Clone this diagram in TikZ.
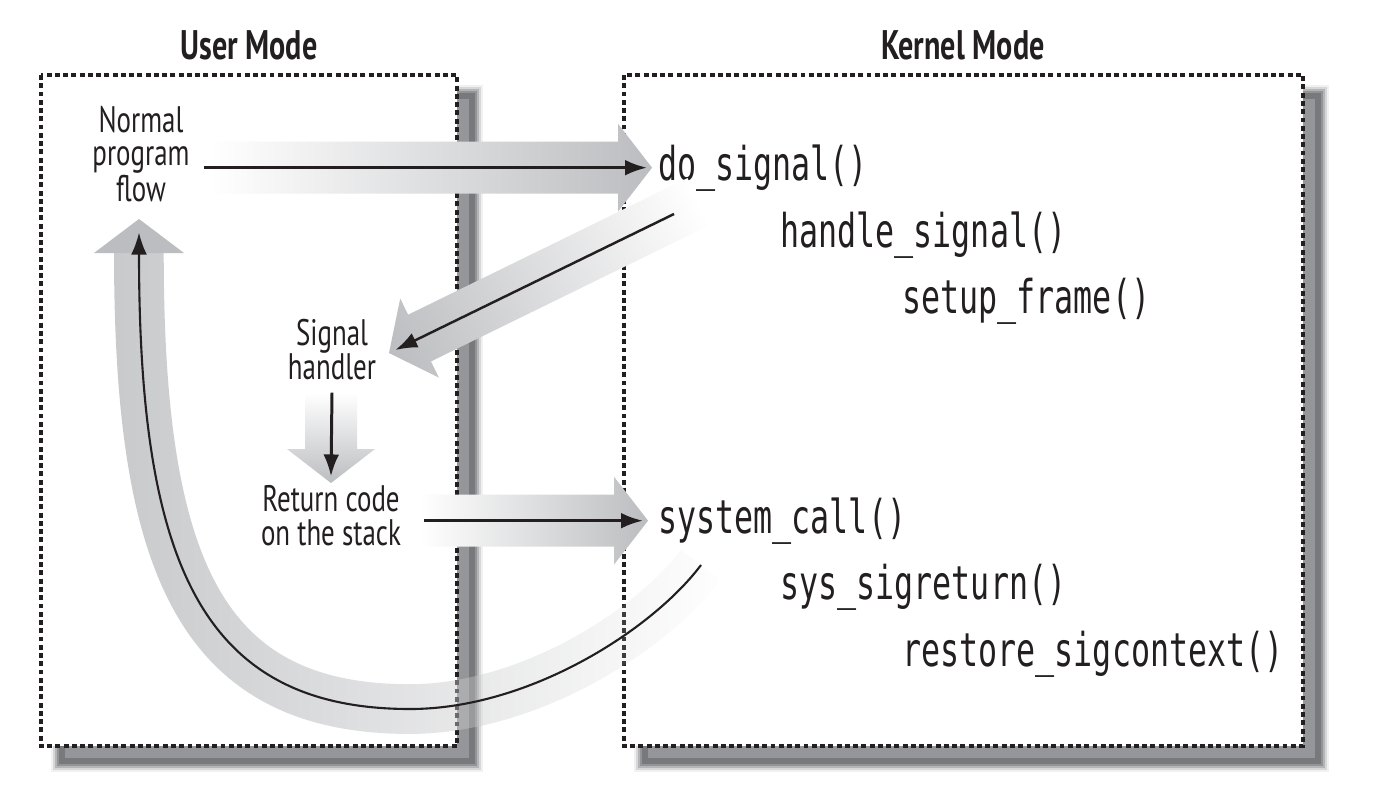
\documentclass[tikz,border=0pt]{standalone}
\usepackage{fontspec}
\setmainfont{PT Sans}[FakeStretch=0.73]
\setmonofont{DejaVu Sans Mono}[FakeStretch=0.68]
\usetikzlibrary{arrows.meta,calc,fadings}

\definecolor{shadowcore}{RGB}{148,150,153}
\definecolor{shadowdark}{RGB}{120,121,124}
\definecolor{arrowgray}{RGB}{188,189,192}
\definecolor{bandgray}{RGB}{201,202,204}
\definecolor{inkblack}{RGB}{35,31,32}

\tikzfading[name=bandfade, left color=transparent!0, middle color=transparent!0, right color=transparent!100]

% wide grey arrow, tip at the origin, pointing along +x
\newcommand{\fatarrow}[1]{%
  \shade[left color=white, right color=arrowgray]
    (-#1,-26) -- (-34,-26) -- (-34,-44) -- (0,0) -- (-34,44) -- (-34,26) -- (-#1,26) -- cycle;}

\tikzset{
  modebox/.style={draw=inkblack, fill=white, line width=1.8pt, dash pattern=on 2.8pt off 1.9pt},
  modetitle/.style={text=inkblack, font=\fontsize{23.5}{25}\selectfont\bfseries},
  flowtext/.style={text=inkblack, align=center, inner sep=0pt, font=\fontsize{21}{19.3}\selectfont},
  kfunc/.style={text=inkblack, anchor=base west, inner sep=0pt, font=\fontsize{26.5}{28}\selectfont\ttfamily},
  thinarrow/.style={draw=inkblack, line width=1.7pt, -{Latex[length=12.5pt, width=9pt]}},
}

\begin{document}
\begin{tikzpicture}[x=0.02cm, y=-0.02cm]
  \useasboundingbox (0,0) rectangle (1388,795);

  % the two modes, each with its soft shadow
  \foreach \xa/\xb in {41/457, 624/1303} {
    \foreach \k/\c in {0/shadowdark!10, 2/shadowdark!30, 4/shadowdark!55, 6/shadowdark!80,
                       8/shadowdark, 10/shadowdark, 12/shadowdark, 14/shadowcore, 16/shadowcore}
      \fill[\c] ({\xa+10+\k},{85+\k}) rectangle ({\xb+26-\k},{772-\k});
    \draw[modebox] (\xa,75) rectangle (\xb,746);
  }
  \node[modetitle] (usertitle) at (249,45) {User Mode};
  \node[modetitle] (kerneltitle) at (963,45) {Kernel Mode};

  \node[flowtext] (flow) at (141,154) {Normal\\program\\flow};
  \node[flowtext] (handler) at (332,350) {Signal\\handler};
  \node[flowtext] (retcode) at (331,516) {Return code\\on the stack};

  \node[kfunc] (dosig) at (658,180) {do\_signal()};
  \node[kfunc] (handsig) at (780,247) {handle\_signal()};
  \node[kfunc] (setup) at (902,313) {setup\_frame()};
  \node[kfunc] (syscall) at (658,533) {system\_call()};
  \node[kfunc] (sigret) at (780,599) {sys\_sigreturn()};
  \node[kfunc] (restore) at (902,666) {restore\_sigcontext()};

  \coordinate (sigstart) at (674,214);
  \coordinate (retstart) at (701,565);
  \coordinate (retlow) at (410,709);

  \begin{scope}[transform canvas={shift={($(dosig.west)+(-6,0)$)}}]
    \fatarrow{442}
  \end{scope}
  \begin{scope}[transform canvas={shift={($(syscall.west)+(-10,0)$)}}]
    \fatarrow{228}
  \end{scope}
  \begin{scope}[transform canvas={shift={(331,483)}, rotate=-90}]
    \fatarrow{90}
  \end{scope}
  \begin{scope}[transform canvas={shift={(389,353)}, rotate=206.07}]
    \fatarrow{345}
  \end{scope}

  \path[draw=bandgray, line width=28.3pt, path fading=bandfade]
    (retstart) .. controls (653,629) and (530,709) .. (retlow)
    .. controls (200,709) and (139,565) .. (139,253);
  \fill[arrowgray] (94,253) -- (139,219) -- (184,253) -- cycle;

  \draw[thinarrow] ($(flow.east |- dosig.west)+(14,0)$) -- ($(dosig.west)+(-11,0)$);
  \draw[thinarrow, line width=1.4pt] (sigstart) -- ($(handler.east)+(19,0)$);
  \draw[thinarrow] ($(handler.south)+(0,12)$) -- ($(retcode.north)+(0,-9)$);
  \draw[thinarrow] ($(retcode.east |- syscall.west)+(23,0)$) -- ($(syscall.west)+(-15,0)$);
  \draw[thinarrow, line width=1.2pt] (retstart) .. controls (653,629) and (530,709) .. (retlow)
    .. controls (200,709) and (139,560) .. ($(flow.south)+(-2,30)$);
\end{tikzpicture}
\end{document}
